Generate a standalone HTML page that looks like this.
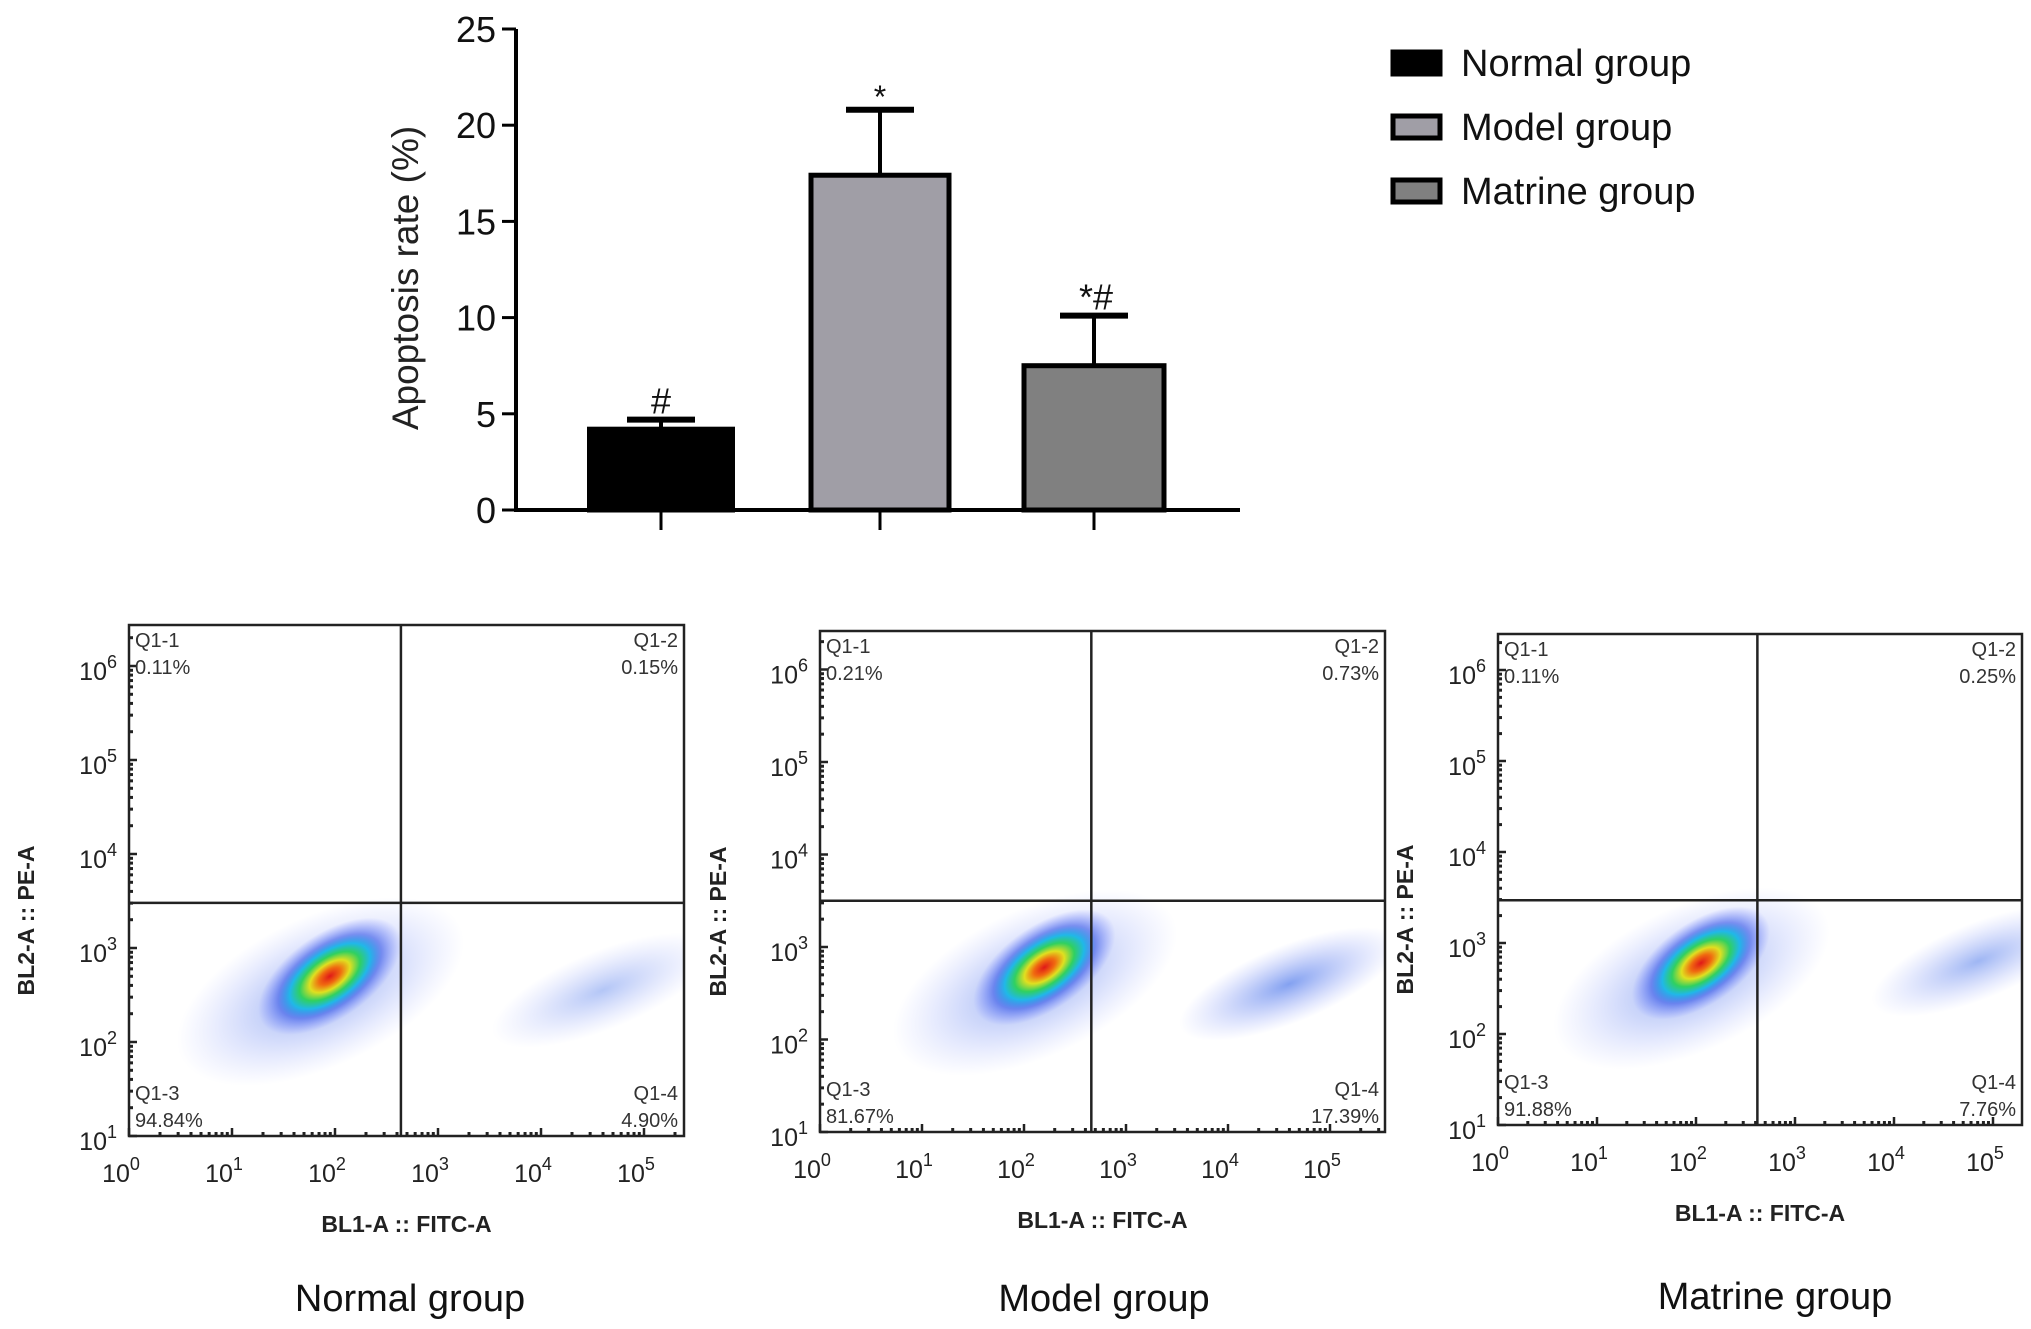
<!DOCTYPE html>
<html><head><meta charset="utf-8"><style>
html,body{margin:0;padding:0;background:#fff}
svg{display:block}
text{font-family:"Liberation Sans",Arial,sans-serif}
</style></head><body>
<svg id="root" width="2031" height="1329" viewBox="0 0 2031 1329" xmlns="http://www.w3.org/2000/svg">
<defs>
<radialGradient id="dens" cx="50%" cy="50%" r="50%">
<stop offset="0" stop-color="#e01818"/>
<stop offset="0.15" stop-color="#f06a10"/>
<stop offset="0.28" stop-color="#e0e020"/>
<stop offset="0.42" stop-color="#30d060"/>
<stop offset="0.56" stop-color="#20b8e8"/>
<stop offset="0.72" stop-color="#3858e8" stop-opacity="0.6"/>
<stop offset="1" stop-color="#6070ff" stop-opacity="0"/>
</radialGradient>
<radialGradient id="sparse" cx="50%" cy="50%" r="50%">
<stop offset="0" stop-color="#3a6ae8" stop-opacity="0.7"/>
<stop offset="0.5" stop-color="#5a7af0" stop-opacity="0.35"/>
<stop offset="1" stop-color="#8090ff" stop-opacity="0"/>
</radialGradient>
</defs>
<g id="bar"></g>
<g id="flow"></g>
</svg>
<script>
// Bar chart data
const groups = ["Normal group","Model group","Matrine group"];
const rates = [4.2, 17.4, 7.5];
const errs = [0.5, 3.4, 2.6];
const marks = ["#","*","*#"];
const fills = ["#000000","#a09ea6","#808080"];
const yTicks = [0,5,10,15,20,25];

// Flow panel data (log10 units)
const panelTitles = ["Normal group","Model group","Matrine group"];
const q1 = ["0.11%","0.21%","0.11%"];
const q2 = ["0.15%","0.73%","0.25%"];
const q3 = ["94.84%","81.67%","91.88%"];
const q4 = ["4.90%","17.39%","7.76%"];
const gateX = [2.64, 2.66, 2.62];
const gateY = [3.48, 3.50, 3.47];
const liveX = [1.95, 2.2, 2.05];
const liveY = [2.7, 2.78, 2.78];
const apopX = [4.6, 4.6, 4.85];
const apopY = [2.55, 2.6, 2.8];
const apopDensity = [0.55, 0.9, 0.7];
const xDecades = [0,1,2,3,4,5];
const yDecades = [1,2,3,4,5,6];

const NS="http://www.w3.org/2000/svg";
function mk(tag,attrs,parent,txt){const e=document.createElementNS(NS,tag);for(const k in attrs)e.setAttribute(k,attrs[k]);if(txt!==undefined)e.textContent=txt;parent.appendChild(e);return e;}

// ---- Bar chart
const bar=document.getElementById('bar');
const bx0=516,bx1=1240,by0=510,byTop=29;
const yS=v=>by0-(by0-byTop)*v/25;
const xC=[661,880,1094], bw=[143,138,140];
let ax=mk('line',{x1:bx0,y1:byTop,x2:bx0,y2:by0,stroke:'#000','stroke-width':4},bar);

let axx=mk('line',{x1:bx0-2,y1:by0,x2:bx1,y2:by0,stroke:'#000','stroke-width':4},bar);

yTicks.forEach(t=>{
  const y=yS(t);
  const l=mk('line',{x1:bx0-14,y1:y,x2:bx0,y2:y,stroke:'#000','stroke-width':3},bar);
  
  const tx=mk('text',{x:bx0-20,y:y+13,'text-anchor':'end','font-size':36,fill:'#111'},bar,String(t));
  
});
const yl=mk('text',{x:0,y:0,transform:'translate(418,278) rotate(-90)','text-anchor':'middle','font-size':37,fill:'#222'},bar,'Apoptosis rate (%)');

rates.forEach((v,i)=>{
  const x=xC[i],w=bw[i];
  const top=yS(v), cap=yS(v+errs[i]);
  const eb=mk('line',{x1:x,y1:top,x2:x,y2:cap,stroke:'#000','stroke-width':4},bar);
  
  const ec=mk('line',{x1:x-34,y1:cap,x2:x+34,y2:cap,stroke:'#000','stroke-width':6},bar);
  
  const r=mk('rect',{x:x-w/2,y:top,width:w,height:by0-top,fill:fills[i],stroke:'#000','stroke-width':5},bar);
  
  const tk=mk('line',{x1:x,y1:by0,x2:x,y2:530,stroke:'#000','stroke-width':3},bar);
  
  const m=mk('text',{x:x+(marks[i].length>1?2:0),y:cap-(marks[i]=='*'?2:6),'text-anchor':'middle','font-size':marks[i]=='*'?32:36,fill:'#111'},bar,marks[i]);
  
});
// legend
groups.forEach((g,i)=>{
  const y=63+i*64;
  const lg=mk('g',{},bar);
  
  mk('rect',{x:1393,y:y-11,width:47,height:22,fill:fills[i],stroke:'#000','stroke-width':5},lg);
  mk('text',{x:1461,y:y+13,'font-size':38,fill:'#111'},lg,g);
});

// ---- Flow panels
const flow=document.getElementById('flow');
const P=[
 {l:129,r:684,t:625,b:1136,x0:129,dx:103,y1:1136,dy:94,lab:26,tl:410,tt:1298},
 {l:820,r:1385,t:631,b:1132,x0:820,dx:102,y1:1132,dy:92.5,lab:718,tl:1104,tt:1298},
 {l:1498,r:2022,t:634,b:1125,x0:1498,dx:99,y1:1125,dy:91,lab:1405,tl:1775,tt:1296}
];
P.forEach((p,i)=>{
  const g=mk('g',{},flow);
  
  
  const X=v=>p.x0+v*p.dx, Y=v=>p.y1-(v-1)*p.dy;
  const cp='cp'+i;
  const c=mk('clipPath',{id:cp},g);mk('rect',{x:p.l,y:p.t,width:p.r-p.l,height:p.b-p.t},c);
  const dg=mk('g',{'clip-path':'url(#'+cp+')'},g);
  const lx=X(liveX[i]),ly=Y(liveY[i]);
  const halo=mk('ellipse',{cx:lx-15,cy:ly+10,rx:p.dx*1.5,ry:p.dy*0.8,fill:'url(#sparse)',opacity:0.8,transform:`rotate(-25 ${lx} ${ly})`},dg);
  
  const core=mk('ellipse',{cx:lx,cy:ly,rx:p.dx*0.8,ry:p.dy*0.45,fill:'url(#dens)',transform:`rotate(-35 ${lx} ${ly})`},dg);
  
  const ax2=X(apopX[i]),ay2=Y(apopY[i]);
  const ap=mk('ellipse',{cx:ax2,cy:ay2,rx:p.dx*1.15,ry:p.dy*0.42,fill:'url(#sparse)',opacity:apopDensity[i],transform:`rotate(-22 ${ax2} ${ay2})`},dg);
  
  mk('rect',{x:p.l,y:p.t,width:p.r-p.l,height:p.b-p.t,fill:'none',stroke:'#222','stroke-width':2.5},g);
  const vx=X(gateX[i]),hy=Y(gateY[i]);
  const vl=mk('line',{x1:vx,y1:p.t,x2:vx,y2:p.b,stroke:'#222','stroke-width':2.5},g);
  
  const hl=mk('line',{x1:p.l,y1:hy,x2:p.r,y2:hy,stroke:'#222','stroke-width':2.5},g);
  
  xDecades.forEach(d=>{
    const x=X(d);
    mk('line',{x1:x,y1:p.b,x2:x,y2:p.b-8,stroke:'#222','stroke-width':2.5},g);
    for(let k=2;k<10;k++){const xm=X(d+Math.log10(k));if(xm<p.r)mk('line',{x1:xm,y1:p.b,x2:xm,y2:p.b-4,stroke:'#222','stroke-width':3},g);}
    const t=mk('text',{x:x-8,y:p.b+46,'text-anchor':'middle','font-size':25,fill:'#222'},g);
    
    mk('tspan',{},t,'10');mk('tspan',{dy:-12,'font-size':18},t,String(d));
  });
  yDecades.forEach(d=>{
    const y=Y(d);
    mk('line',{x1:p.l,y1:y,x2:p.l+8,y2:y,stroke:'#222','stroke-width':2.5},g);
    for(let k=2;k<10;k++){const ym=Y(d+Math.log10(k));if(ym>p.t)mk('line',{x1:p.l,y1:ym,x2:p.l+4,y2:ym,stroke:'#222','stroke-width':3},g);}
    const t=mk('text',{x:p.l-12,y:y+14,'text-anchor':'end','font-size':25,fill:'#222'},g);
    
    mk('tspan',{},t,'10');mk('tspan',{dy:-12,'font-size':18},t,String(d));
  });
  const qs=[[p.l+6,p.t+22,'start','Q1-1',q1[i]],[p.r-6,p.t+22,'end','Q1-2',q2[i]],[p.l+6,p.b-36,'start','Q1-3',q3[i]],[p.r-6,p.b-36,'end','Q1-4',q4[i]]];
  qs.forEach(q=>{
    const t=mk('text',{x:q[0],y:q[1],'text-anchor':q[2],'font-size':20,fill:'#333'},g,q[3]);
    
    const t2=mk('text',{x:q[0],y:q[1]+27,'text-anchor':q[2],'font-size':20,fill:'#333'},g,q[4]);
    
  });
  const xl=mk('text',{x:(p.l+p.r)/2,y:p.b+96,'text-anchor':'middle','font-size':23,'font-weight':'bold',fill:'#222'},g,'BL1-A :: FITC-A');
  
  const yc=(p.t+p.b)/2+40;
  const yt=mk('text',{x:0,y:0,transform:`translate(${p.lab+8},${yc}) rotate(-90)`,'text-anchor':'middle','font-size':23,'font-weight':'bold',fill:'#222'},g,'BL2-A :: PE-A');
  
  const tt=mk('text',{x:p.tl,y:p.tt+13,'text-anchor':'middle','font-size':38,fill:'#111'},g,panelTitles[i]);
  
});
</script>
</body></html>
